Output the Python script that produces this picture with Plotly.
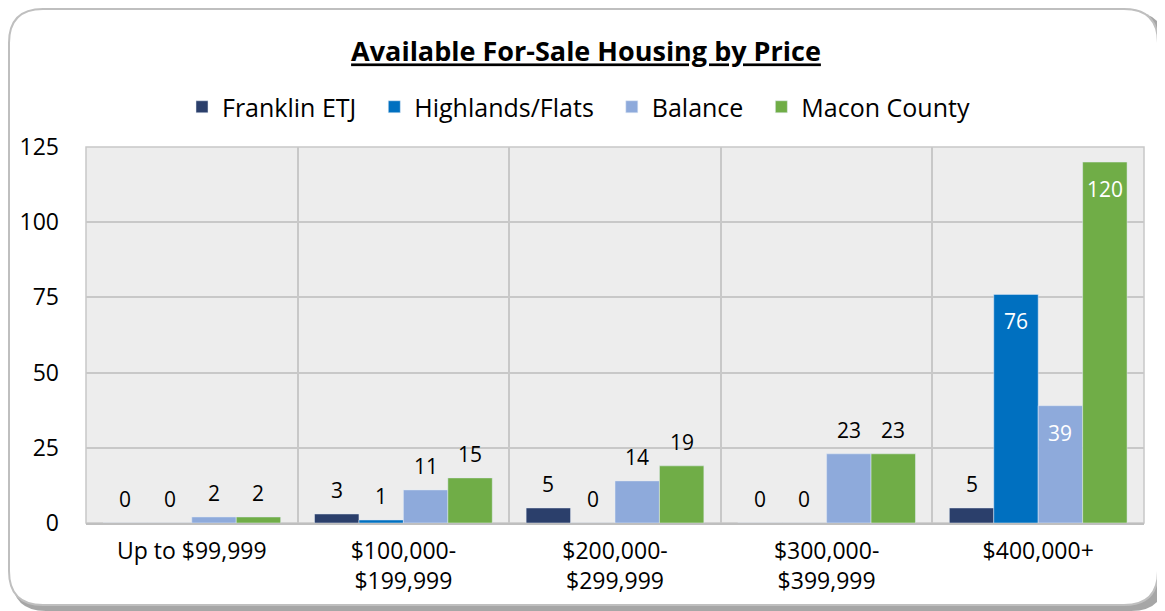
# available for-sale housing by price
import plotly.graph_objects as go

categorias = ["Up to $99,999", "$100,000-<br>$199,999", "$200,000-<br>$299,999",
              "$300,000-<br>$399,999", "$400,000+"]
franklin = [0, 3, 5, 0, 5]
highlands = [0, 1, 0, 0, 76]
balance = [2, 11, 14, 23, 39]
macon = [2, 15, 19, 23, 120]

series = [
    ("Franklin ETJ", franklin, "#2B3F6B"),
    ("Highlands/Flats", highlands, "#0070C0"),
    ("Balance", balance, "#8EAADB"),
    ("Macon County", macon, "#70AD47"),
]

# la pagina tiene 8px de margen en el body
OFF = 8
W, H = 1165 - OFF, 611 - OFF
L, R, T, B = 86 - OFF, 21, 147 - OFF, 88
GAP = 0.16


def px(x):
    return (x - OFF - L) / (W - L - R)


def py(y):
    return (H - B - (y - OFF)) / (H - T - B)


ancho_barra = (W - L - R) / len(categorias) * (1 - GAP) / len(series)

fig = go.Figure()
etiquetas = []
for i, (nombre, valores, color) in enumerate(series):
    fig.add_trace(go.Bar(
        name=nombre + "&nbsp;&nbsp;", x=categorias, y=valores,
        marker_color=color, hoverinfo="x+y",
    ))
    for cat, v in zip(categorias, valores):
        dentro = v > 30
        etiquetas.append(dict(
            x=cat, y=v, xref="x", yref="y", text=str(v), showarrow=False,
            xshift=(i - 1.5) * ancho_barra, yshift=-27 if dentro else 24,
            yanchor="middle",
            font=dict(size=21, color="white" if dentro else "black"),
        ))


def caja(x0, y0, x1, y1, r):
    return (f"M {px(x0 + r)},{py(y0)} L {px(x1 - r)},{py(y0)} "
            f"Q {px(x1)},{py(y0)} {px(x1)},{py(y0 + r)} "
            f"L {px(x1)},{py(y1 - r)} Q {px(x1)},{py(y1)} {px(x1 - r)},{py(y1)} "
            f"L {px(x0 + r)},{py(y1)} Q {px(x0)},{py(y1)} {px(x0)},{py(y1 - r)} "
            f"L {px(x0)},{py(y0 + r)} Q {px(x0)},{py(y0)} {px(x0 + r)},{py(y0)} Z")


fig.update_layout(
    width=W, height=H,
    margin=dict(l=L, r=R, t=T, b=B, autoexpand=False),
    paper_bgcolor="white", plot_bgcolor="#EDEDED",
    font=dict(family="Open Sans, sans-serif", size=21, color="black"),
    title=dict(text="<b><u>Available For-Sale Housing by Price</u></b>",
               x=px(586), xref="paper", xanchor="center",
               y=1 - (52 - OFF) / H, yanchor="middle", font=dict(size=27)),
    barmode="group", bargap=GAP, bargroupgap=0,
    legend=dict(orientation="h", x=px(585), xanchor="center", y=py(107),
                yanchor="middle", font=dict(size=25), itemwidth=30,
                traceorder="normal"),
    showlegend=True,
    annotations=etiquetas,
    yaxis=dict(range=[0, 125], dtick=25, gridcolor="#C8C8C8", gridwidth=1.5,
               zeroline=False, showline=False, ticks="", tickfont=dict(size=23),
               ticklabelstandoff=26, automargin=False),
    xaxis=dict(tickson="boundaries", showgrid=True, gridcolor="#C8C8C8",
               gridwidth=1.5, showline=True, linecolor="#BFBFBF", linewidth=2,
               ticks="", tickfont=dict(size=23), ticklabelstandoff=6,
               automargin=False),
    shapes=[
        dict(type="path", xref="paper", yref="paper", layer="below",
             path=caja(12, 12, 1165, 611, 34), fillcolor="#A6A6A6",
             line=dict(width=0)),
        dict(type="path", xref="paper", yref="paper", layer="below",
             path=caja(9, 9, 1158, 605, 34), fillcolor="white",
             line=dict(color="#BFBFBF", width=2)),
        dict(type="rect", xref="paper", yref="paper", layer="below",
             x0=0, x1=1, y0=0, y1=1, fillcolor="#EDEDED",
             line=dict(color="#C8C8C8", width=1.5)),
    ],
)

fig.write_html("out.html")
